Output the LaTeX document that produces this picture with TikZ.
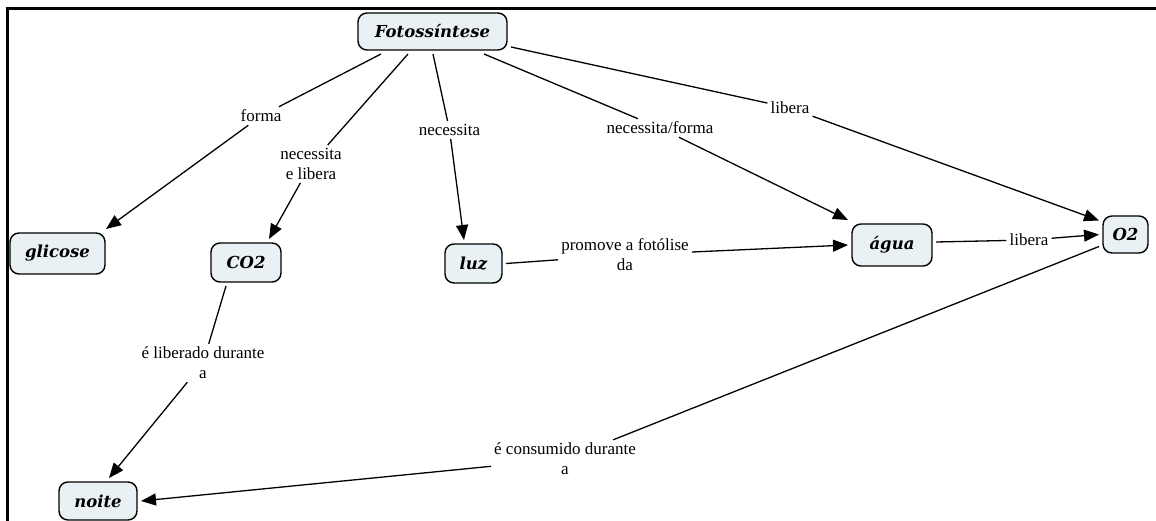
\documentclass[tikz,border=0pt]{standalone}
\usepackage{fontspec}
\setmainfont{Liberation Serif}
\newfontfamily\linkfont{Liberation Serif}
\newfontfamily\conceptfont{DejaVu Serif}
\usetikzlibrary{arrows.meta}
\definecolor{conceptfill}{HTML}{EAF1F5}
\tikzset{
  concept/.style={draw=black, line width=1.4pt, fill=conceptfill, rounded corners=9pt,
    font=\conceptfont\bfseries\itshape\fontsize{16.5}{19}\selectfont,
    inner sep=2pt, outer sep=4pt},
  linkword/.style={font=\linkfont\fontsize{17}{20}\selectfont, align=center, inner sep=3pt},
  link/.style={line width=1.3pt},
  linkarrow/.style={line width=1.3pt, -{Triangle[length=15pt,width=12pt]}}
}
\begin{document}
\begin{tikzpicture}[x=1pt,y=-1pt]
\useasboundingbox (0,0) rectangle (1156,521);
% frame
\draw[line width=3pt] (7.5,521) -- (7.5,8.5) -- (1156,8.5);

% concepts
\node[concept, minimum width=149pt, minimum height=37pt] (F) at (432.5,31.5) {Fotossíntese};
\node[concept, minimum width=95pt, minimum height=41pt] (G) at (57.5,253.5) {glicose};
\node[concept, minimum width=70pt, minimum height=39pt] (C) at (246,262.5) {CO2};
\node[concept, minimum width=57pt, minimum height=39pt] (L) at (473.5,263.5) {luz};
\node[concept, minimum width=80pt, minimum height=42pt] (A) at (892,245) {água};
\node[concept, minimum width=45pt, minimum height=37pt] (O) at (1125.5,234.5) {O2};
\node[concept, minimum width=78pt, minimum height=38pt] (N) at (98,501) {noite};

% linking phrases
\node[linkword] (lforma) at (261,116) {forma};
\node[linkword] (lco) at (311,164) {necessita\\e libera};
\node[linkword] (lluz) at (449.5,130) {necessita};
\node[linkword] (lagua) at (660,128) {necessita/forma};
\node[linkword] (lox) at (790,108) {libera};
\node[linkword] (lfot) at (625,255) {promove a fotólise\\da};
\node[linkword] (llib) at (1029,240) {libera};
\node[linkword] (lcol) at (203,363) {é liberado durante\\a};
\node[linkword] (lnoi) at (565,459) {é consumido durante\\a};

% connectors
\draw[link] ([xshift=27pt]F.south west) -- (lforma);
\draw[linkarrow] (lforma) -- ([xshift=-3pt]G.north east);

\draw[link] ([xshift=54pt]F.south west) -- (lco);
\draw[linkarrow] (lco) -- ([xshift=-16pt]C.north east);

\draw[link] ([xshift=79pt]F.south west) -- (lluz);
\draw[linkarrow] (lluz) -- ([xshift=23pt]L.north west);

\draw[link] ([xshift=130pt]F.south west) -- (lagua);
\draw[linkarrow] (lagua) -- (A.north west);

\draw[link] ([yshift=-15.5pt]F.east) -- (lox);
\draw[linkarrow] (lox) -- ([yshift=14pt]O.west);

\draw[link] (L.east) -- (lfot);
\draw[linkarrow] (lfot) -- (A.west);

\draw[link] ([yshift=3pt]A.east) -- (llib);
\draw[linkarrow] (llib) -- (O.west);

\draw[link] ([xshift=19pt]C.south west) -- (lcol);
\draw[linkarrow] (lcol) -- ([xshift=54pt]N.north west);

\draw[link] ([yshift=-12pt]O.west) -- (lnoi);
\draw[linkarrow] (lnoi) -- (N.east);
\end{tikzpicture}
\end{document}
